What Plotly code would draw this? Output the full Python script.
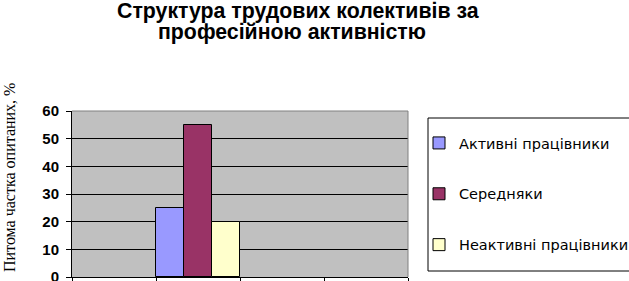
import plotly.graph_objects as go

categories = ["1", "2", "3", "4"]
series_names = ["Активні працівники", "Середняки", "Неактивні працівники"]
series_values = [25, 55, 20]
series_category = "2"
colors = ["#9999FF", "#993366", "#FFFFCC"]
y_ticks = [0, 10, 20, 30, 40, 50, 60]
title_lines = ["Структура трудових колективів за", "професійною активністю"]
y_title = "Питома частка опитаних, %"

fig = go.Figure()
for i, (name, val, col) in enumerate(zip(series_names, series_values, colors)):
    fig.add_trace(go.Bar(
        x=[series_category], y=[val], name=name,
        marker=dict(color=col, line=dict(color="black", width=1)),
        legendgroup=str(i),
    ))

W, H = 629, 281
L, R, T, B = 72, 408, 111, 277
PW, PH = R - L, B - T


def px(xp):
    return (xp - L) / PW


def py(yp):
    return (B - yp) / PH


fig.update_layout(
    width=W, height=H,
    margin=dict(l=L, r=W - R, t=T, b=H - B, autoexpand=False),
    paper_bgcolor="white",
    plot_bgcolor="#C0C0C0",
    barmode="group", bargap=0, bargroupgap=0,
    font=dict(family="Arial, Liberation Sans, sans-serif", color="black"),
    showlegend=True,
    legend=dict(x=px(419), xanchor="left", y=py(194), yanchor="middle",
                bgcolor="rgba(0,0,0,0)", borderwidth=0,
                font=dict(size=14.5, color="black", family="DejaVu Sans, sans-serif"),
                tracegroupgap=29, itemclick=False),
    xaxis=dict(type="category", categoryorder="array", categoryarray=categories,
               range=[-0.5, 3.5], showticklabels=False, tickson="boundaries",
               ticks="outside", ticklen=4, tickcolor="black", showline=True,
               linecolor="black", linewidth=1, showgrid=False, fixedrange=True,
               automargin=False),
    yaxis=dict(range=[0, 60], tickvals=y_ticks, ticks="outside", ticklen=5,
               tickcolor="black", showline=True, linecolor="black", linewidth=1,
               gridcolor="black", gridwidth=1, zeroline=False, automargin=False,
               ticklabeloverflow="allow",
               tickfont=dict(size=15, family="Arial, Liberation Sans, sans-serif",
                             weight="bold"),
               ticklabelstandoff=4),
    shapes=[
        dict(type="line", xref="paper", yref="paper", x0=0, x1=1, y0=1, y1=1,
             line=dict(color="#808080", width=1)),
        dict(type="line", xref="paper", yref="paper", x0=1, x1=1, y0=0, y1=1,
             line=dict(color="#808080", width=1)),
        dict(type="line", xref="paper", yref="paper", x0=px(428), x1=px(640),
             y0=py(118), y1=py(118), line=dict(color="black", width=1)),
        dict(type="line", xref="paper", yref="paper", x0=px(428), x1=px(640),
             y0=py(271), y1=py(271), line=dict(color="black", width=1)),
        dict(type="line", xref="paper", yref="paper", x0=px(428), x1=px(428),
             y0=py(118), y1=py(271), line=dict(color="black", width=1)),
    ],
    annotations=[
        dict(text="<b>" + title_lines[0] + "</b>", xref="paper", yref="paper",
             x=px(297.5), y=py(10.5), xanchor="center", yanchor="middle",
             showarrow=False,
             font=dict(size=21.3, color="black", family="Arial, Liberation Sans, sans-serif")),
        dict(text="<b>" + title_lines[1] + "</b>", xref="paper", yref="paper",
             x=px(291.5), y=py(32.5), xanchor="center", yanchor="middle",
             showarrow=False,
             font=dict(size=21.3, color="black", family="Arial, Liberation Sans, sans-serif")),
        dict(text=y_title, textangle=-90, xref="paper", yref="paper",
             x=px(9), y=py(178), xanchor="center", yanchor="middle",
             showarrow=False,
             font=dict(family="Liberation Serif, Times New Roman, serif", size=16, color="black")),
    ],
)

fig.write_html("out.html")
